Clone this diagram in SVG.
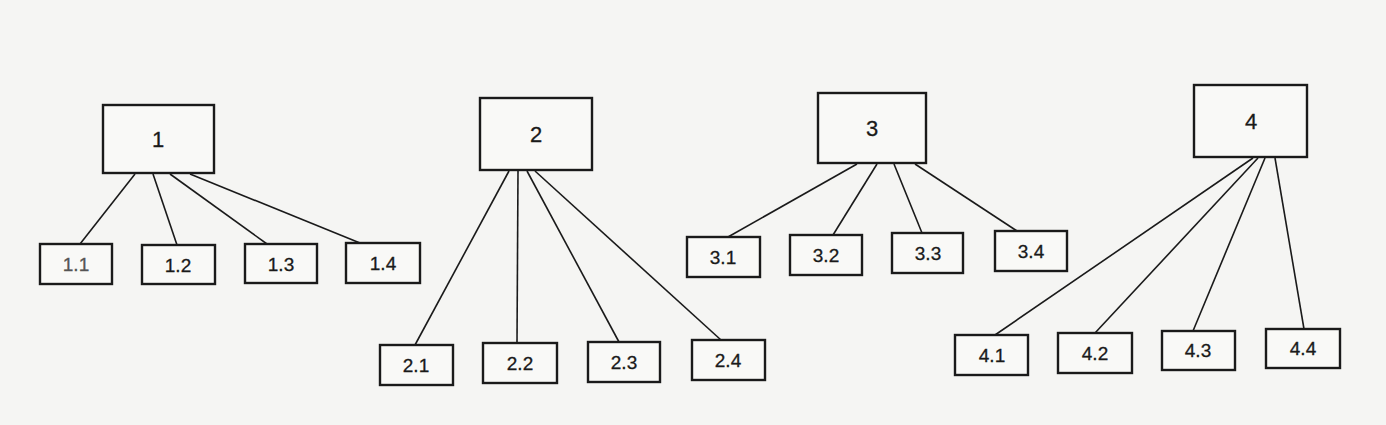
<svg xmlns="http://www.w3.org/2000/svg" width="1386" height="425" viewBox="0 0 1386 425">
<style>
.bg{fill:#f5f5f3}
.box{fill:#f9f9f7;stroke:#1a1a1a;stroke-width:2.4}
.lbl{font-family:"Liberation Sans",Arial,sans-serif;font-size:19px;fill:#1a1a1a;stroke:#1a1a1a;stroke-width:0.3;text-anchor:middle}
.root{font-size:22px}
.con line{stroke:#1a1a1a;stroke-width:1.6}
</style>
<rect class="bg" x="0" y="0" width="1386" height="425"/>
<g class="con">
<line x1="135" y1="174" x2="80" y2="244"/>
<line x1="153" y1="174" x2="177" y2="245"/>
<line x1="170" y1="174" x2="267" y2="244"/>
<line x1="190" y1="174" x2="360" y2="243"/>
<line x1="509" y1="171" x2="415" y2="345"/>
<line x1="518" y1="171" x2="517" y2="343"/>
<line x1="527" y1="171" x2="619" y2="342"/>
<line x1="535" y1="171" x2="721" y2="340"/>
<line x1="857" y1="164" x2="728" y2="237"/>
<line x1="877" y1="164" x2="833" y2="235"/>
<line x1="894" y1="164" x2="922" y2="233"/>
<line x1="915" y1="164" x2="1017" y2="231"/>
<line x1="1253" y1="158" x2="995" y2="335"/>
<line x1="1258" y1="158" x2="1095" y2="333"/>
<line x1="1265" y1="158" x2="1193" y2="331"/>
<line x1="1275" y1="158" x2="1304" y2="329"/>
</g>
<g id="n1"><rect class="box" x="103" y="105" width="111" height="68"/><text class="lbl root" x="158" y="147">1</text></g>
<g id="n1.1"><rect class="box" x="40" y="244" width="72" height="40"/><text class="lbl" x="76" y="271" style="fill:#555;stroke:#555">1.1</text></g>
<g id="n1.2"><rect class="box" x="142" y="245" width="73" height="39"/><text class="lbl" x="178" y="272">1.2</text></g>
<g id="n1.3"><rect class="box" x="245" y="244" width="72" height="39"/><text class="lbl" x="281" y="271">1.3</text></g>
<g id="n1.4"><rect class="box" x="346" y="243" width="74" height="40"/><text class="lbl" x="383" y="270">1.4</text></g>
<g id="n2"><rect class="box" x="480" y="98" width="112" height="72"/><text class="lbl root" x="536" y="142">2</text></g>
<g id="n2.1"><rect class="box" x="380" y="345" width="73" height="40"/><text class="lbl" x="416" y="372">2.1</text></g>
<g id="n2.2"><rect class="box" x="483" y="343" width="74" height="40"/><text class="lbl" x="520" y="370">2.2</text></g>
<g id="n2.3"><rect class="box" x="588" y="342" width="72" height="40"/><text class="lbl" x="624" y="369">2.3</text></g>
<g id="n2.4"><rect class="box" x="692" y="340" width="73" height="40"/><text class="lbl" x="728" y="367">2.4</text></g>
<g id="n3"><rect class="box" x="818" y="93" width="108" height="70"/><text class="lbl root" x="872" y="136">3</text></g>
<g id="n3.1"><rect class="box" x="687" y="237" width="73" height="40"/><text class="lbl" x="723" y="264">3.1</text></g>
<g id="n3.2"><rect class="box" x="790" y="235" width="72" height="40"/><text class="lbl" x="826" y="262">3.2</text></g>
<g id="n3.3"><rect class="box" x="892" y="233" width="71" height="40"/><text class="lbl" x="928" y="260">3.3</text></g>
<g id="n3.4"><rect class="box" x="995" y="231" width="72" height="40"/><text class="lbl" x="1031" y="258">3.4</text></g>
<g id="n4"><rect class="box" x="1194" y="85" width="113" height="72"/><text class="lbl root" x="1251" y="129">4</text></g>
<g id="n4.1"><rect class="box" x="955" y="335" width="73" height="40"/><text class="lbl" x="992" y="362">4.1</text></g>
<g id="n4.2"><rect class="box" x="1058" y="333" width="74" height="40"/><text class="lbl" x="1095" y="360">4.2</text></g>
<g id="n4.3"><rect class="box" x="1162" y="331" width="73" height="39"/><text class="lbl" x="1198" y="357">4.3</text></g>
<g id="n4.4"><rect class="box" x="1266" y="329" width="74" height="39"/><text class="lbl" x="1303" y="355">4.4</text></g>
</svg>
